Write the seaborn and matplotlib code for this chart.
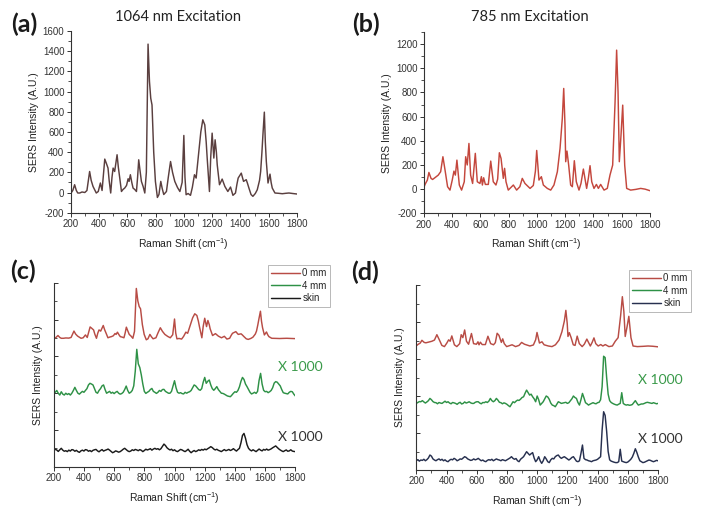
import numpy as np
import matplotlib
matplotlib.use("Agg")
import matplotlib.pyplot as plt
from matplotlib.ticker import MultipleLocator
import seaborn as sns

a_shift = [200, 215, 228, 240, 250, 264, 280, 300, 315, 334, 345, 358, 381, 395, 410, 422,
           441, 452, 464, 472, 483, 492, 500, 511, 528, 537, 547, 559, 570, 582, 595, 606,
           613, 622, 632, 641, 653, 665, 673, 681, 690, 700, 712, 724, 735, 747, 757, 766,
           775, 787, 799, 813, 824, 837, 847, 858, 877, 890, 906, 920, 936, 955, 972, 988,
           1000, 1008, 1016, 1030, 1047, 1060, 1075, 1087, 1106, 1120, 1134, 1148, 1158, 1165,
           1181, 1190, 1200, 1212, 1221, 1230, 1236, 1252, 1271, 1290, 1311, 1330, 1347, 1365,
           1375, 1384, 1406, 1414, 1422, 1441, 1450, 1460, 1475, 1488, 1505, 1519, 1535, 1543,
           1552, 1559, 1569, 1576, 1583, 1595, 1609, 1617, 1625, 1644, 1670, 1696, 1720, 1743,
           1770, 1800]
a_int = [-10, 20, 77, 20, -5, -5, 5, 0, 20, 208, 120, 60, -5, 10, 94, 20,
         331, 290, 242, 120, -5, 150, 242, 208, 374, 250, 143, 10, 30, 44, 70, 136,
         110, 176, 100, 44, 30, 10, 150, 324, 220, 110, 60, -5, 200, 1470, 1100, 934,
         867, 400, 110, -49, -20, 110, 40, -20, 10, 150, 307, 200, 110, 50, 10, 100,
         565, 150, -22, -10, -28, 50, 176, 143, 407, 600, 720, 670, 500, 341,
         10, 350, 588, 341, 522, 400, 275, 77, 133, 60, 10, 54, -28, -5,
         80, 143, 192, 150, 110, 127, 90, 44, -20, -38, -10, 27, 120, 209,
         400, 571, 796, 500, 308, 94, 182, 100, 44, -5, -8, -12, -8, -5,
         -10, -15]

b_shift = [200, 210, 226, 237, 252, 263, 280, 303, 320, 336, 351, 369, 386, 402, 414, 424,
           435, 452, 468, 487, 497, 508, 520, 532, 546, 565, 579, 598, 608, 615, 624, 636,
           657, 674, 692, 711, 723, 735, 747, 763, 772, 782, 798, 834, 857, 880, 897, 916,
           952, 975, 990, 999, 1015, 1032, 1046, 1074, 1098, 1121, 1145, 1164, 1180, 1190,
           1199, 1204, 1213, 1225, 1239, 1251, 1265, 1279, 1298, 1312, 1329, 1338, 1352, 1364,
           1376, 1388, 1404, 1421, 1435, 1451, 1475, 1498, 1517, 1536, 1553, 1564, 1574, 1583,
           1595, 1607, 1621, 1635, 1663, 1700, 1734, 1765, 1800]
b_int = [10, 40, 75, 138, 89, 80, 95, 116, 144, 268, 158, 20, -8, 75, 149, 116,
         240, 34, -8, 61, 268, 200, 378, 116, 47, 296, 61, 47, 103, 34, 94, 39,
         39, 232, 61, 34, 83, 301, 254, 89, 172, 61, -8, 34, -8, 20, 89, 47,
         6, 30, 150, 320, 75, 103, 34, 6, -8, 34, 144, 337, 585, 833,
         530, 227, 315, 199, 34, 20, 235, 61, -8, 47, 166, 103, 6, 89,
         194, 61, 6, 39, 6, 39, -8, 6, 116, 199, 723, 1150, 806, 227,
         447, 695, 199, 6, -8, -2, 6, 0, -13]

# (c)/(d) depth series, read on a 10 cm-1 grid (display units)
grid_shift = list(range(200, 1801, 10))
c_4mm = [39.5, 40.5, 41.5, 40.0, 39.0, 40.8, 39.5, 39.0, 40.0, 39.3,
         39.8, 39.0, 40.0, 41.5, 43.2, 41.5, 40.0, 39.5, 40.3, 41.0,
         40.5, 41.5, 42.5, 44.5, 45.4, 45.0, 44.5, 42.5, 40.5, 40.0,
         41.5, 42.5, 44.0, 44.5, 42.0, 40.0, 40.5, 41.0, 40.0, 40.5,
         39.8, 40.5, 41.0, 40.0, 39.5, 39.8, 40.5, 42.0, 43.9, 41.5,
         40.0, 40.5, 41.5, 44.0, 52.0, 63.9, 56.0, 54.0, 50.0, 45.0,
         41.0, 39.9, 40.5, 41.0, 42.0, 42.6, 41.0, 40.5, 39.9, 40.5,
         41.5, 41.0, 42.0, 42.1, 41.0, 40.5, 40.0, 40.0, 41.0, 44.0,
         46.8, 43.0, 40.5, 40.0, 40.3, 39.8, 39.6, 40.5, 40.0, 40.5,
         40.8, 41.5, 43.0, 44.5, 44.0, 43.0, 42.0, 41.6, 42.5, 46.0,
         48.6, 45.4, 46.5, 47.2, 44.5, 42.5, 41.6, 42.5, 43.6, 42.0,
         41.0, 40.0, 39.9, 39.5, 39.0, 38.5, 38.3, 38.1, 39.0, 40.0,
         40.8, 40.5, 41.5, 43.5, 46.5, 48.6, 47.5, 45.0, 43.6, 42.0,
         40.5, 39.6, 40.0, 40.5, 39.9, 41.0, 47.0, 50.8, 45.0, 41.6,
         40.8, 41.0, 40.3, 40.8, 41.5, 43.0, 45.5, 46.3, 46.0, 45.0,
         44.0, 42.0, 40.3, 40.0, 39.8, 39.6, 40.5, 41.0, 40.8, 39.5,
         38.5]
c_skin = [8.5, 9.5, 9.1, 8.3, 9.2, 10.0, 9.0, 8.4, 8.7, 8.2,
          9.0, 8.5, 9.3, 9.1, 8.4, 8.9, 8.2, 7.8, 8.6, 9.0,
          8.5, 9.3, 9.1, 8.4, 8.8, 8.2, 8.9, 9.2, 9.4, 8.6,
          8.1, 8.8, 9.3, 8.5, 8.9, 9.2, 9.6, 9.0, 8.3, 7.6,
          8.0, 8.6, 8.3, 7.9, 8.2, 8.8, 9.5, 10.0, 9.3, 8.6,
          8.2, 8.5, 9.2, 8.8, 9.4, 9.1, 8.7, 9.3, 8.9, 8.2,
          8.8, 9.5, 9.1, 9.4, 9.8, 9.0, 9.6, 10.0, 9.5, 9.8,
          9.2, 9.8, 11.0, 12.3, 11.5, 10.3, 9.6, 9.1, 9.5, 8.7,
          9.2, 8.5, 8.2, 8.8, 9.4, 9.1, 8.6, 8.2, 8.8, 9.5,
          8.4, 7.6, 8.3, 8.8, 8.2, 8.6, 9.2, 8.8, 9.4, 9.0,
          9.6, 9.2, 9.8, 10.3, 10.9, 10.4, 9.6, 9.1, 9.5, 8.9,
          8.6, 8.2, 8.8, 9.3, 8.7, 9.0, 9.4, 8.8, 9.2, 9.8,
          9.1, 8.5, 9.3, 10.0, 13.0, 17.0, 18.1, 15.5, 12.0, 10.0,
          9.1, 8.6, 9.2, 8.7, 8.2, 8.9, 9.6, 9.0, 8.6, 9.4,
          9.0, 9.6, 9.0, 9.3, 9.7, 10.3, 10.8, 11.3, 10.5, 9.7,
          9.1, 8.6, 8.2, 8.7, 9.1, 8.4, 8.6, 9.2, 8.5, 8.3,
          8.2]
d_4mm = [36.0, 36.5, 37.0, 36.9, 37.5, 36.8, 36.2, 36.8, 37.5, 38.7,
         38.0, 37.0, 36.5, 36.4, 35.8, 36.5, 36.2, 36.0, 36.6, 37.2,
         36.5, 36.9, 36.2, 35.8, 36.5, 36.3, 36.0, 35.5, 36.2, 36.6,
         35.7, 36.0, 36.8, 36.2, 36.5, 36.9, 36.3, 36.0, 36.0, 36.6,
         36.9, 36.9, 36.2, 35.8, 36.5, 36.4, 36.9, 36.5, 37.2, 38.7,
         37.5, 36.9, 37.5, 38.7, 37.8, 36.6, 36.4, 35.8, 36.3, 36.0,
         35.5, 34.8, 34.2, 35.5, 36.9, 36.4, 37.2, 37.8, 37.6, 38.3,
         39.2, 39.6, 41.5, 43.2, 41.8, 40.5, 41.0, 39.6, 38.5, 36.9,
         40.0, 38.0, 35.1, 36.0, 36.9, 38.5, 40.0, 39.5, 38.2, 36.2,
         35.1, 34.8, 34.2, 35.6, 36.9, 36.5, 36.0, 36.2, 36.4, 36.6,
         36.0, 36.4, 37.5, 38.5, 40.0, 39.2, 38.7, 36.5, 35.1, 38.0,
         41.4, 39.0, 36.4, 35.8, 35.1, 35.6, 36.0, 36.4, 36.0, 35.8,
         36.4, 36.6, 38.0, 45.0, 61.5, 60.8, 50.0, 41.0, 37.5, 36.5,
         36.0, 35.6, 35.3, 35.1, 35.6, 36.0, 41.8, 36.0, 35.4, 35.1,
         35.3, 35.0, 35.1, 35.4, 36.5, 37.5, 36.2, 35.1, 35.4, 35.7,
         35.7, 36.0, 36.4, 36.6, 36.4, 36.2, 36.0, 36.4, 36.1, 35.8,
         36.0]
d_skin = [5.0, 5.6, 4.8, 5.4, 5.2, 5.8, 5.0, 5.6, 6.5, 8.1,
          7.5, 6.0, 5.4, 5.0, 5.6, 6.0, 5.3, 5.8, 5.0, 5.5,
          4.8, 4.5, 5.3, 5.8, 5.5, 6.3, 5.8, 5.0, 5.4, 6.0,
          5.8, 6.5, 7.2, 6.8, 6.0, 5.6, 5.2, 5.4, 6.0, 5.5,
          5.8, 6.3, 5.6, 5.0, 5.4, 4.8, 4.5, 5.2, 5.6, 5.3,
          5.8, 5.0, 5.5, 6.0, 5.6, 5.4, 5.0, 5.6, 5.3, 5.0,
          5.5, 6.0, 6.5, 7.2, 6.3, 5.8, 6.2, 5.0, 4.5, 5.8,
          6.5, 7.2, 8.5, 9.9, 9.0, 8.1, 8.8, 9.4, 6.5, 4.5,
          5.5, 7.2, 5.0, 3.6, 5.0, 7.2, 6.0, 4.5, 4.0, 5.5,
          6.3, 6.0, 7.2, 7.8, 8.1, 7.0, 6.3, 6.8, 7.2, 6.6,
          6.0, 5.4, 6.0, 6.8, 7.2, 6.0, 4.8, 4.5, 5.0, 9.0,
          13.5, 6.3, 5.6, 5.4, 5.0, 4.8, 4.5, 5.0, 5.2, 5.4,
          5.8, 6.5, 7.2, 21.6, 31.5, 29.5, 21.0, 10.0, 5.5, 4.8,
          4.5, 4.2, 4.0, 4.0, 4.5, 11.2, 4.8, 4.5, 4.2, 4.0,
          4.3, 5.0, 5.8, 7.0, 9.0, 11.5, 9.5, 7.0, 5.0, 4.5,
          4.0, 4.2, 4.6, 5.0, 5.4, 5.2, 4.8, 4.5, 4.8, 5.2,
          5.0]

labels = ["0 mm", "4 mm", "skin"]

# colours
col_a = "#5a3f3f"
col_b = "#c4473d"
col_red = "#b84c45"
col_green = "#2e9146"
col_black = "#1a1a1a"
col_navy = "#27304f"

sns.set_theme(style="ticks")
plt.rcParams["font.family"] = ["Liberation Sans", "DejaVu Sans"]
plt.rcParams["mathtext.fontset"] = "custom"
plt.rcParams["mathtext.rm"] = "Liberation Sans"
plt.rcParams["mathtext.it"] = "Liberation Sans"
plt.rcParams["axes.unicode_minus"] = False

fig = plt.figure(figsize=(7.06, 5.13), dpi=100)
ax_a = fig.add_axes([0.1001, 0.5854, 0.3206, 0.3542])
ax_b = fig.add_axes([0.6001, 0.5842, 0.3206, 0.3534])
ax_c = fig.add_axes([0.0761, 0.0903, 0.3422, 0.3580])
ax_d = fig.add_axes([0.5897, 0.0838, 0.3423, 0.3606])

xlab = "Raman Shift (cm$^{-1}$)"


def draw(ax, x, y, color, label=None):
    sns.lineplot(x=x, y=y, ax=ax, color=color, lw=1.05, label=label,
                 legend=False, errorbar=None, sort=False)


def style(ax, ylab):
    ax.set_xlim(200, 1800)
    ax.xaxis.set_major_locator(MultipleLocator(200))
    ax.xaxis.set_minor_locator(MultipleLocator(100))
    ax.tick_params(axis="both", which="major", labelsize=7, length=3, width=0.7,
                   pad=1.5, colors="#333333")
    ax.tick_params(axis="both", which="minor", length=2, width=0.6, colors="#333333")
    for s in ["top", "right"]:
        ax.spines[s].set_visible(False)
    for s in ["left", "bottom"]:
        ax.spines[s].set_linewidth(0.8)
        ax.spines[s].set_color("#333333")
    ax.set_xlabel(xlab, fontsize=7.5, labelpad=5, color="#222222")
    ax.set_ylabel(ylab, fontsize=7.5, labelpad=3, color="#222222")


# top row
draw(ax_a, a_shift, a_int, col_a)
style(ax_a, "SERS Intensity (A.U.)")
ax_a.set_ylim(-200, 1600)
ax_a.yaxis.set_major_locator(MultipleLocator(200))
ax_a.yaxis.set_minor_locator(MultipleLocator(100))

draw(ax_b, b_shift, b_int, col_b)
style(ax_b, "SERS Intensity (A.U.)")
ax_b.set_ylim(-200, 1300)
ax_b.yaxis.set_major_locator(MultipleLocator(200))
ax_b.yaxis.set_minor_locator(MultipleLocator(100))

# bottom row: stacked traces, 0 mm trace is the top-row spectrum offset
draw(ax_c, a_shift, 70 + np.array(a_int) * 0.0184, col_red, labels[0])
draw(ax_c, grid_shift, c_4mm, col_green, labels[1])
draw(ax_c, grid_shift, c_skin, col_black, labels[2])

draw(ax_d, b_shift, 66.9 + np.array(b_int) * 0.0233, col_red, labels[0])
draw(ax_d, grid_shift, d_4mm, col_green, labels[1])
draw(ax_d, grid_shift, d_skin, col_navy, labels[2])

for ax in (ax_c, ax_d):
    style(ax, "SERS Intensity (A.U.)")
    ax.set_ylim(0, 100)
    ax.yaxis.set_major_locator(MultipleLocator(20))
    ax.yaxis.set_minor_locator(MultipleLocator(10))
    ax.tick_params(axis="y", which="both", direction="in", labelleft=False)
    ax.set_ylabel("SERS Intensity (A.U.)", fontsize=7.5, labelpad=8, color="#222222")

leg_kw = dict(fontsize=7, frameon=True, fancybox=False, handlelength=3.0,
              handletextpad=0.2, borderpad=0.35, labelspacing=0.25,
              bbox_transform=fig.transFigure, loc="upper right")
lg = ax_c.legend(bbox_to_anchor=(0.4745, 0.4932), **leg_kw)
lg.get_frame().set_edgecolor("#999999")
lg.get_frame().set_linewidth(0.6)
lg = ax_d.legend(bbox_to_anchor=(0.9858, 0.4834), **leg_kw)
lg.get_frame().set_edgecolor("#999999")
lg.get_frame().set_linewidth(0.6)

# panel letters, titles, scale notes
lato = ["Lato", "DejaVu Sans"]
for txt, x, y in [("(a)", 0.034, 0.953), ("(b)", 0.518, 0.953),
                  ("(c)", 0.032, 0.472), ("(d)", 0.517, 0.470)]:
    fig.text(x, y, txt, fontsize=18, fontweight="bold", family=lato,
             ha="center", va="center", color="#1a1a1a")
fig.text(0.252, 0.967, "1064 nm Excitation", fontsize=10.5, family=lato,
         ha="center", va="center", color="#222222")
fig.text(0.751, 0.967, "785 nm Excitation", fontsize=10.5, family=lato,
         ha="center", va="center", color="#222222")
fig.text(0.394, 0.285, "X 1000", fontsize=10, family=lato, ha="left", va="center",
         color="#3a9a4a")
fig.text(0.394, 0.148, "X 1000", fontsize=10, family=lato, ha="left", va="center",
         color="#333333")
fig.text(0.904, 0.259, "X 1000", fontsize=10, family=lato, ha="left", va="center",
         color="#3a9a4a")
fig.text(0.904, 0.144, "X 1000", fontsize=10, family=lato, ha="left", va="center",
         color="#333333")

fig.savefig("out.png", dpi=100)
